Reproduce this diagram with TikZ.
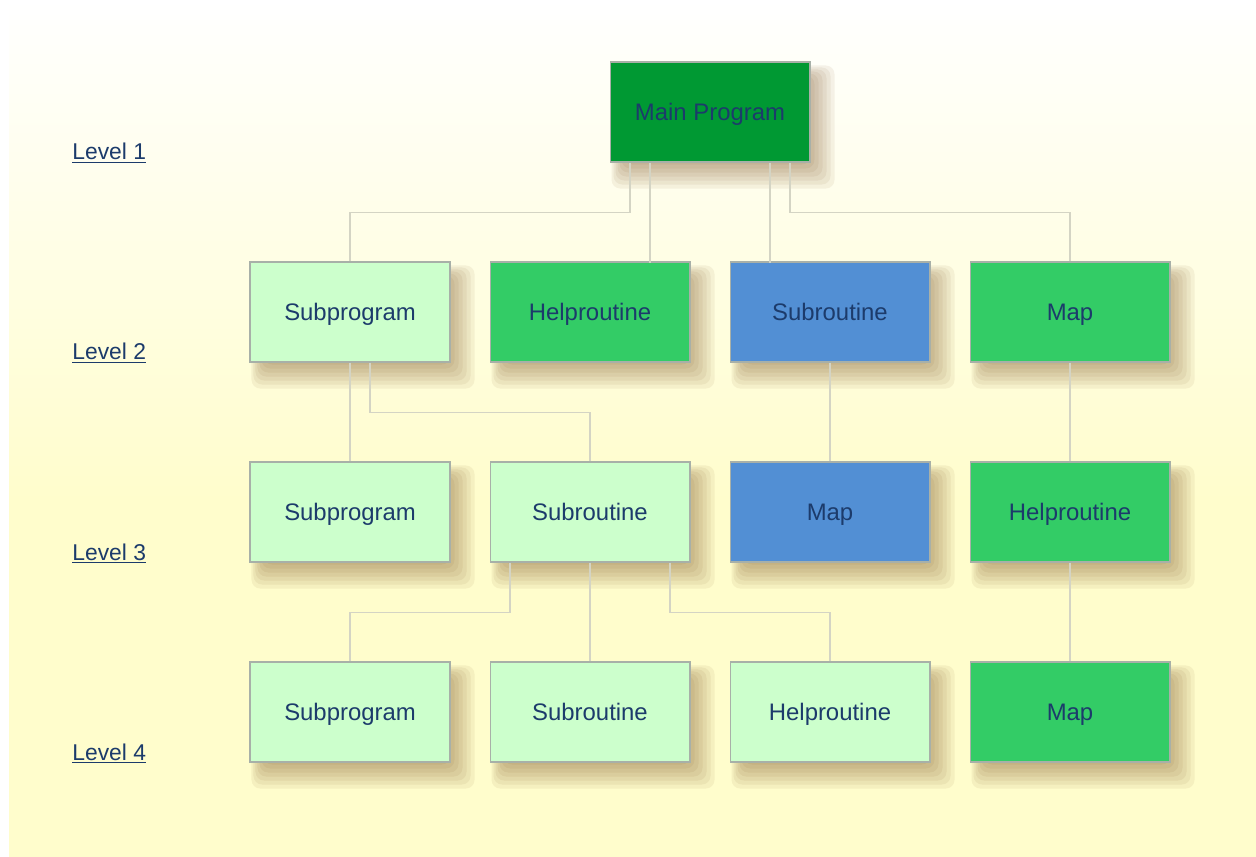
\documentclass[tikz,border=0pt]{standalone}
\usepackage{fontspec}
\setmainfont{Liberation Sans}
\definecolor{bgyellow}{HTML}{FFFDCC}
\definecolor{darkgreen}{HTML}{009933}
\definecolor{midgreen}{HTML}{33CC66}
\definecolor{lightgreen}{HTML}{CCFFCC}
\definecolor{midblue}{HTML}{528FD4}
\definecolor{textblue}{HTML}{1C3B6B}
\definecolor{linegray}{HTML}{D4D4C4}
\definecolor{boxedge}{HTML}{A8B0A8}
\definecolor{shadowbrown}{HTML}{7A5020}
\pgfdeclarelayer{background}
\pgfsetlayers{background,main}
\begin{document}
\begin{tikzpicture}[x=0.02cm,y=-0.02cm,
  box/.style={draw=boxedge,line width=0.6pt,minimum width=4cm,minimum height=2cm,inner sep=0pt,
    text=textblue,font=\fontsize{13.6}{16}\selectfont,text height=9.7pt,text depth=0pt},
  link/.style={draw=linegray,line width=0.9pt},
  lvl/.style={anchor=base west,inner sep=0pt,text=textblue,font=\fontsize{13}{15}\selectfont},
  shadowpiece/.style={fill=shadowbrown,fill opacity=0.075,rounded corners=5pt}]
\useasboundingbox (0,0) rectangle (1256,857);
\foreach \i in {1,...,4}
  \node[lvl] (lvl\i) at (72,{160+200*(\i-1)}) {\underline{Level \i}};
% level 1
\node[box,fill=darkgreen] (main) at (710,112) {Main Program};
% level 2
\node[box,fill=lightgreen] (sp2) at (350,312) {Subprogram};
\node[box,fill=midgreen] (help2) at (590,312) {Helproutine};
\node[box,fill=midblue] (sr2) at (830,312) {Subroutine};
\node[box,fill=midgreen] (map2) at (1070,312) {Map};
% level 3
\node[box,fill=lightgreen] (sp3) at (350,512) {Subprogram};
\node[box,fill=lightgreen] (sr3) at (590,512) {Subroutine};
\node[box,fill=midblue] (map3) at (830,512) {Map};
\node[box,fill=midgreen] (help3) at (1070,512) {Helproutine};
% level 4
\node[box,fill=lightgreen] (sp4) at (350,712) {Subprogram};
\node[box,fill=lightgreen] (sr4) at (590,712) {Subroutine};
\node[box,fill=lightgreen] (help4) at (830,712) {Helproutine};
\node[box,fill=midgreen] (map4) at (1070,712) {Map};
\draw[link] ([xshift=-1.6cm]main.south) -- ++(0,50) -| (sp2.north);
\draw[link] ([xshift=-1.2cm]main.south) -- ++(0,100);
\draw[link] ([xshift=1.2cm]main.south) -- ++(0,100);
\draw[link] ([xshift=1.6cm]main.south) -- ++(0,50) -| (map2.north);
\draw[link] (sp2.south) -- (sp3.north);
\draw[link] ([xshift=0.4cm]sp2.south) -- ++(0,50) -| (sr3.north);
\draw[link] (sr2.south) -- (map3.north);
\draw[link] (map2.south) -- (help3.north);
\draw[link] ([xshift=-1.6cm]sr3.south) -- ++(0,50) -| (sp4.north);
\draw[link] (sr3.south) -- (sr4.north);
\draw[link] ([xshift=1.6cm]sr3.south) -- ++(0,50) -| (help4.north);
\draw[link] (help3.south) -- (map4.north);
% background and soft shadows
\begin{pgfonlayer}{background}
\fill[white] (0,0) rectangle (1256,857);
\shade[top color=white,bottom color=bgyellow] (9,0) rectangle (1256,500);
\fill[bgyellow] (9,499) rectangle (1256,857);
\foreach \n in {main,sp2,help2,sr2,map2,sp3,sr3,map3,help3,sp4,sr4,help4,map4}
  \foreach \k in {-2,...,4}
    \fill[shadowpiece] ([shift={(10-2*\k,12-2*\k)}]\n.north west) rectangle ([shift={(8+4*\k,10+4*\k)}]\n.south east);
\end{pgfonlayer}
\end{tikzpicture}
\end{document}
